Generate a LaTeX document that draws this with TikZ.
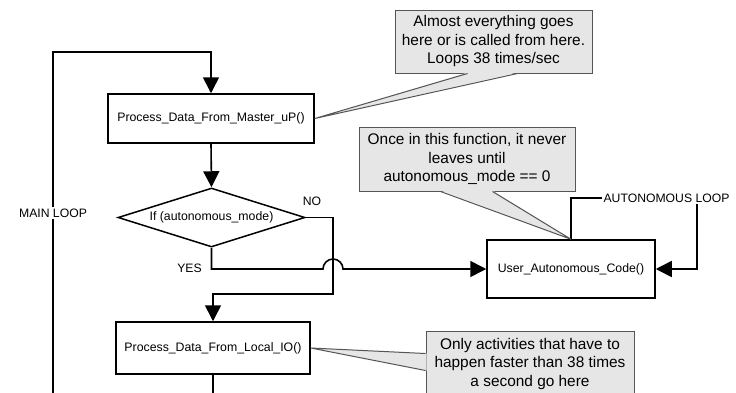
\documentclass[tikz,border=0pt]{standalone}
\usepackage{fontspec}
\setmainfont{Liberation Sans}
\usetikzlibrary{arrows.meta,shapes.geometric,calc}
\definecolor{callfill}{RGB}{230,230,230}
\definecolor{callline}{RGB}{85,85,85}
\begin{document}
\begin{tikzpicture}[x=1pt,y=-1pt,
  box/.style={draw,line width=1.5pt,rectangle,fill=white,font=\fontsize{12.3}{14}\selectfont,inner sep=0pt},
  decision/.style={draw,diamond,line width=1.5pt,fill=white,shape aspect=3.2,inner sep=0pt,font=\fontsize{12.3}{14}\selectfont},
  conn/.style={line width=1.6pt,-{Triangle[length=16pt,width=16pt]}},
  plain/.style={line width=1.6pt},
  lbl/.style={font=\fontsize{12.2}{14}\selectfont,inner sep=1.5pt},
  callbox/.style={draw=callline,fill=callfill,line width=1pt,align=center,inner sep=0pt,font=\fontsize{15.4}{18.5}\selectfont},
  wedgeline/.style={draw=callline,line width=1pt}]
\useasboundingbox (0,0) rectangle (736,392);
\clip (0,0) rectangle (736,392);
\fill[white] (0,0) rectangle (736,392);

% main nodes
\node[box,minimum width=206pt,minimum height=49pt] (b1) at (211,118.5) {Process\_Data\_From\_Master\_uP()};
\node[decision,minimum width=187pt,minimum height=59pt] (dia) at (211.5,217.5) {If (autonomous\_mode)};
\node[box,minimum width=194pt,minimum height=52pt] (b3) at (213,348) {Process\_Data\_From\_Local\_IO()};
\node[box,minimum width=168pt,minimum height=58pt] (ua) at (571,269) {User\_Autonomous\_Code()};

% helper coordinates
\coordinate (mlb) at (53,400);
\coordinate (mltop) at (53,52);
\coordinate (nocorner) at (333,294);
\coordinate (hopL) at (323,269);
\coordinate (hopR) at (343,269);
\coordinate (alr) at (697,198);
\coordinate (b3out) at (213,400);

% connectors
\draw[conn] (mlb) -- (mltop) -| (b1.north);
\draw[conn] (b1.south) -- (dia.north);
\draw[conn] (dia.east) -| (nocorner) -| (b3.north);
\draw[conn] (dia.south) |- (hopL) .. controls (323,263.5) and (327.5,259) .. (333,259) .. controls (338.5,259) and (343,263.5) .. (hopR) -- (ua.west);
\draw[conn] (ua.north) |- (alr) |- (ua.east);
\draw[plain] (b3.south) -- (b3out);

% callouts
\node[callbox,minimum width=197pt,minimum height=63pt] (c1) at (493.5,41.5) {Almost everything goes\\here or is called from here.\\Loops 38 times/sec};
\fill[callfill] ($(c1.south west)+(73,-1)$) -- (b1.east) -- ($(c1.south west)+(123,-1)$) -- cycle;
\draw[wedgeline] ($(c1.south west)+(73,0)$) -- (b1.east) -- ($(c1.south west)+(123,0)$);

\node[callbox,minimum width=216pt,minimum height=64pt] (c2) at (467,159) {Once in this function, it never\\leaves until\\autonomous\_mode == 0};
\fill[callfill] ($(c2.south west)+(82,-1)$) -- (ua.north) -- ($(c2.south west)+(134,-1)$) -- cycle;
\draw[wedgeline] ($(c2.south west)+(82,0)$) -- (ua.north) -- ($(c2.south west)+(134,0)$);

\node[callbox,minimum width=208pt,minimum height=66pt] (c3) at (530,364) {Only activities that have to\\happen faster than 38 times\\a second go here};
\fill[callfill] ($(c3.north west)+(1,23)$) -- (b3.east) -- ($(c3.north west)+(1,40)$) -- cycle;
\draw[wedgeline] ($(c3.north west)+(0,23)$) -- (b3.east) -- ($(c3.north west)+(0,40)$);

% labels
\node[lbl,fill=white] (ml) at (53,213) {MAIN LOOP};
\node[lbl,fill=white] (al) at (666.5,198) {AUTONOMOUS LOOP};
\node[lbl] (no) at (312,201) {NO};
\node[lbl] (yes) at (189.5,268) {YES};
\end{tikzpicture}
\end{document}
